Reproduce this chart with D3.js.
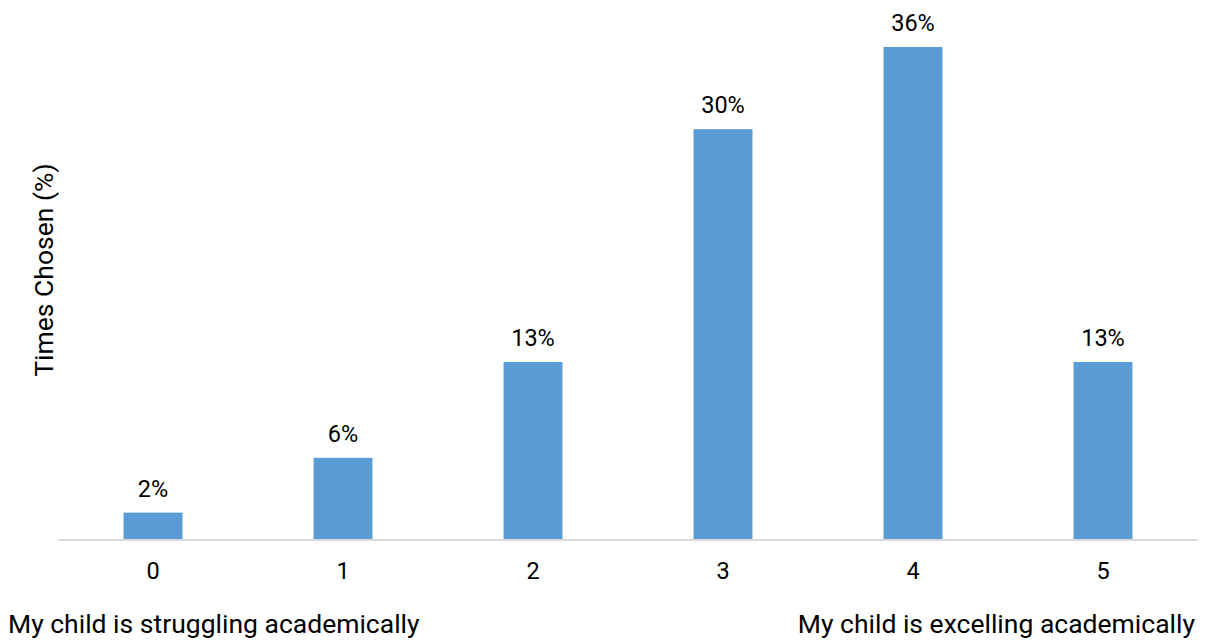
<!DOCTYPE html>
<html><head><meta charset="utf-8">
<script src="https://cdn.jsdelivr.net/npm/d3@7"></script>
<style>body{margin:0;background:#fff}svg{display:block}text{font-family:Roboto,sans-serif;fill:#000}</style>
</head><body>
<svg id="c" width="1206" height="642"></svg>
<script>
const categories = ["0","1","2","3","4","5"];
const values = [2, 6, 13, 30, 36, 13];
const valueLabels = ["2%","6%","13%","30%","36%","13%"];
const yTitle = "Times Chosen (%)";
const leftNote = "My child is struggling academically";
const rightNote = "My child is excelling academically";

const svg = d3.select("#c");
const x = d3.scaleBand().domain(categories).range([58, 1198]).paddingInner(0.69).paddingOuter(0.345);
const y = d3.scaleLinear().domain([0, 36]).range([540, 47]);

svg.selectAll("rect.bar").data(values).join("rect").attr("class","bar")
  .attr("x",(d,i)=>x(categories[i])).attr("width",x.bandwidth())
  .attr("y",d=>y(d)).attr("height",d=>y(0)-y(d)).attr("fill","#5b9bd5");

svg.append("line").attr("x1",58).attr("x2",1198).attr("y1",540).attr("y2",540)
  .attr("stroke","#d9d9d9").attr("stroke-width",2);

svg.selectAll("text.vl").data(values).join("text").attr("class","vl")
  .attr("x",(d,i)=>x(categories[i])+x.bandwidth()/2).attr("y",d=>y(d)-16)
  .attr("text-anchor","middle").attr("font-size",23.5).text((d,i)=>valueLabels[i]);

svg.selectAll("text.tk").data(categories).join("text").attr("class","tk")
  .attr("x",d=>x(d)+x.bandwidth()/2).attr("y",579)
  .attr("text-anchor","middle").attr("font-size",23.5).text(d=>d);

svg.append("text").attr("transform","translate(53,270) rotate(-90)")
  .attr("text-anchor","middle").attr("font-size",26.5).text(yTitle);

svg.append("text").attr("x",8).attr("y",633).attr("font-size",26.5).text(leftNote);
svg.append("text").attr("x",1195).attr("y",633).attr("text-anchor","end").attr("font-size",26.5).text(rightNote);
</script>
</body></html>
